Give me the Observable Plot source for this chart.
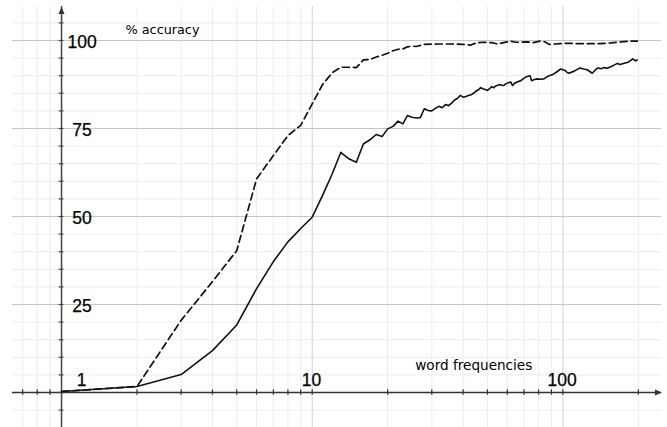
<!DOCTYPE html>
<html>
<head>
<meta charset="utf-8">
<script src="https://cdn.jsdelivr.net/npm/d3@7"></script>
<script src="https://cdn.jsdelivr.net/npm/@observablehq/plot@0.6"></script>
<style>
  html, body { margin: 0; padding: 0; background: #fff; }
</style>
</head>
<body>
<div id="chart"></div>
<script>
// Word frequency (x, log scale) and % accuracy (y)
const solidFreq = [1,2,3,4,5,6,7,8,9,10,11,12,13,14,15,16,17,18,19,20,21,22,23,24,25,26,27,28,29,30,31,32,33,34,35,36,37,38,39,40,41,42,43,44,45,46,47,48,49,50,51,52,53,54,55,56,57,58,59,60,62,63,64,66,68,70,72,74,75,77,79,81,84,86,88,90,92,95,98,100,102,104,106,108,111,114,117,121,125,128,131,134,138,142,146,150,156,160,165,169,173,177,182,186,190,195,198];
const solidAcc = [0.3,1.7,5.1,11.9,19.2,29.5,37.2,42.8,46.6,49.8,56,62,68.2,66.4,65.4,70.6,71.8,73.3,72.7,74.9,75.6,77.1,76.3,78.7,78.2,78.0,78.1,80.6,80.1,80.0,80.7,81.3,80.9,81.8,81.5,82.2,83.1,83.6,84.4,83.9,84.1,84.4,84.6,85.0,85.6,86.0,86.6,86.3,86.1,85.8,86.3,86.9,86.6,87.1,87.3,87.5,87.3,87.2,87.6,87.9,88.2,87.2,87.8,88.3,88.6,89.3,89.8,90.0,88.6,88.9,89.1,89.0,89.1,89.6,90.0,90.2,90.5,91.2,91.9,91.7,91.5,90.9,90.7,91.0,91.3,91.8,92.2,91.9,91.7,91.2,90.7,91.5,92.2,92.0,92.3,92.1,92.6,93.0,93.5,93.2,93.4,93.6,93.8,94.3,94.8,94.2,94.5];

const dashFreq = [1,2,3,4,5,6,7,8,9,10,11,12,13,14,15,16,17,18,19,20,21,22,23,24,25,26,28,32,36,40,43,45,48,52,55,58,62,65,68,72,76,81,85,88,93,98,105,115,125,140,155,170,185,198];
const dashAcc = [0.3,1.7,20.5,31.5,40.3,60.7,67.3,73.0,75.9,82.0,87.5,90.8,92.4,92.4,92.3,94.5,94.6,95.3,95.8,96.4,97.1,97.5,97.6,98.2,98.4,98.3,98.9,99.0,99.0,98.9,98.7,99.3,99.5,99.4,99.0,99.4,99.8,99.5,99.5,99.6,99.4,99.8,99.6,98.9,99.0,99.1,99.2,99.1,99.1,99.1,99.3,99.6,99.8,99.8];

const xMinorGrid = [0.7,0.8,0.9,2,3,4,5,6,7,8,9,20,30,40,50,60,70,80,90,200];
const xMajorGrid = [10,100];
const yMinorGrid = [-5,5,10,15,20,30,35,40,45,55,60,65,70,80,85,90,95,105];
const yMajorGrid = [25,50,75,100];
const xTickLabels = [1,10,100];
const yTickLabels = [25,50,75,100];
const yAxisTitle = "% accuracy";
const xAxisTitle = "word frequencies";

const solid = solidFreq.map((f, i) => ({f, a: solidAcc[i]}));
const dashed = dashFreq.map((f, i) => ({f, a: dashAcc[i]}));
const xTicks = [...xMinorGrid, ...xMajorGrid];
const yTicks = [-5, 0, ...yMinorGrid.filter(v => v > 0), ...yMajorGrid].sort((a, b) => a - b);

const xDomain = [0.6374, 247.4];
const yDomain = [-9.94, 109.66];

const arrowHead = {
  draw(context) {
    context.moveTo(0, -7);
    context.lineTo(3, 0);
    context.lineTo(-3, 0);
    context.closePath();
  }
};

const numFont = "'Liberation Sans', Arial, Helvetica, sans-serif";
const textFont = "'DejaVu Sans', Verdana, sans-serif";
const numStyle = {textAnchor: "middle", fontSize: 17.5, fontFamily: numFont, fill: "#000", stroke: "#000", strokeWidth: 0.25};

const chart = Plot.plot({
  width: 667,
  height: 427,
  marginLeft: 12,
  marginRight: 6,
  marginTop: 6,
  marginBottom: 0,
  x: {type: "log", domain: xDomain, axis: null},
  y: {domain: yDomain, axis: null},
  style: {background: "#fff"},
  marks: [
    // grid
    Plot.ruleX(xMinorGrid, {x: d => d, stroke: "#ededed", strokeWidth: 1}),
    Plot.ruleY(yMinorGrid, {y: d => d, stroke: "#ededed", strokeWidth: 1}),
    Plot.ruleX(xMajorGrid, {x: d => d, stroke: "#d2d2d2", strokeWidth: 1}),
    Plot.ruleY(yMajorGrid, {y: d => d, stroke: "#c6c6c6", strokeWidth: 1}),
    // axes
    Plot.ruleY([0], {stroke: "#333", strokeWidth: 1.3}),
    Plot.ruleX([1], {stroke: "#444", strokeWidth: 1.5}),
    // tick marks
    Plot.ruleX(xTicks, {x: d => d, y1: 0, y2: 0, insetTop: -2.7, insetBottom: -2.7, stroke: "#333", strokeWidth: 1.2}),
    Plot.ruleY(yTicks, {y: d => d, x1: 1, x2: 1, insetLeft: -2.4, insetRight: -2.4, stroke: "#444", strokeWidth: 1.2}),
    // arrow heads
    Plot.dot([0], {x: 1, y: yDomain[1], symbol: arrowHead, fill: "#333", stroke: "none", dy: 7.5}),
    Plot.dot([0], {x: xDomain[1], y: 0, symbol: arrowHead, fill: "#333", stroke: "none", rotate: 90, dx: -6.5}),
    // data
    Plot.line(solid, {x: "f", y: "a", stroke: "#111", strokeWidth: 1.6}),
    Plot.line(dashed, {x: "f", y: "a", stroke: "#111", strokeWidth: 1.7, strokeDasharray: "7,4"}),
    // tick labels
    Plot.text(yTickLabels, {x: 1, y: d => d, text: d => String(d), dx: 20.5, dy: 1.5, ...numStyle}),
    Plot.text(xTickLabels.filter(d => d === 1), {x: d => d, y: 0, text: d => String(d), dx: 20, dy: -12.3, ...numStyle}),
    Plot.text(xTickLabels.filter(d => d !== 1), {x: d => d, y: 0, text: d => String(d), dx: -0.8, dy: -12.3, ...numStyle}),
    // axis titles
    Plot.text([yAxisTitle], {x: 1.80, y: 102.9, text: d => d, textAnchor: "start", fontSize: 12.8, fontFamily: textFont, fill: "#000"}),
    Plot.text([xAxisTitle], {x: 25.76, y: 7.77, text: d => d, textAnchor: "start", fontSize: 13.6, fontFamily: textFont, fill: "#000"})
  ]
});
document.getElementById("chart").appendChild(chart);
</script>
</body>
</html>
